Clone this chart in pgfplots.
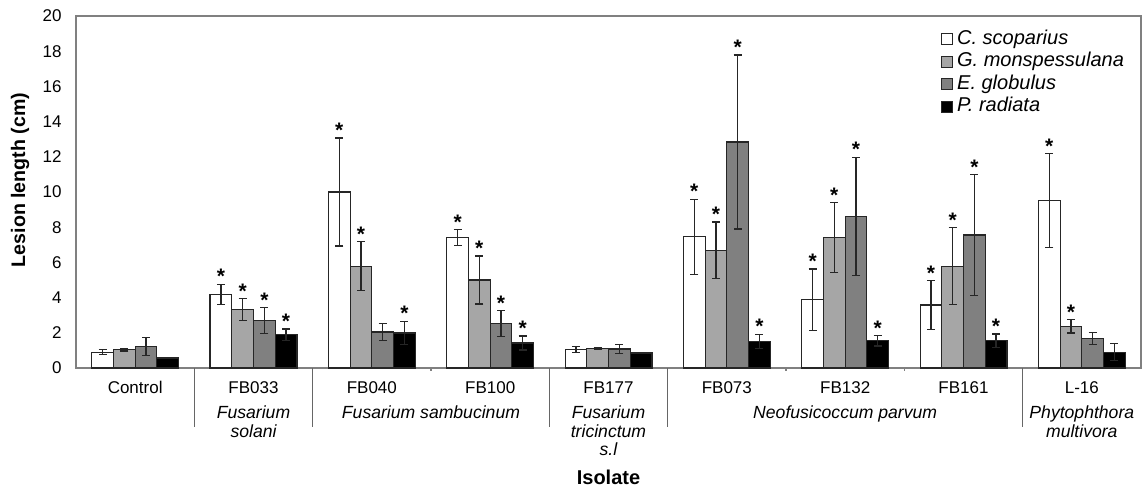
\documentclass[border=0pt]{standalone}
\usepackage{fontspec}
\setmainfont{Liberation Sans}
\usepackage{pgfplots}
\pgfplotsset{compat=1.18}
\definecolor{lgray}{RGB}{166,166,166}
\definecolor{dgray}{RGB}{128,128,128}
\definecolor{framec}{RGB}{128,128,128}
\pgfplotsset{
  bars/.style={draw=black!85, line width=0.6pt,
    error bars/y dir=both, error bars/y explicit,
    error bars/error bar style={line width=0.6pt, black!85},
    error bars/error mark options={rotate=90, mark size=2pt, line width=0.6pt, black!85}},
  stars/.style={forget plot, draw=none, fill=none, nodes near coords={*},
    every node near coord/.append style={font=\fontsize{10.5}{10.5}\selectfont\bfseries, anchor=south, inner sep=0pt, black}},
}
\tikzset{spec/.style={anchor=north, yshift=-18.8pt, align=center, inner sep=0pt,
    font=\fontsize{8.8}{9.25}\selectfont\itshape}}
\begin{document}
\begin{tikzpicture}
\begin{axis}[
  scale only axis, width=532.5pt, height=176pt,
  xmin=-0.5, xmax=8.5, ymin=0, ymax=20,
  ybar, bar width=10.85pt,
  clip=false,
  axis line style={draw=framec, line width=0.7pt},
  tick align=outside,
  major tick length=0pt,
  xtick pos=bottom, ytick pos=left,
  ytick={0,2,...,20},
  yticklabel style={font=\fontsize{8.5}{9}\selectfont, anchor=east, inner sep=0pt, xshift=-7pt},
  /pgf/number format/assume math mode=true,
  xtick={0,...,8},
  xticklabels={Control,FB033,FB040,FB100,FB177,FB073,FB132,FB161,L-16},
  xticklabel style={font=\fontsize{8.5}{9}\selectfont, anchor=base, yshift=-13pt},
  minor xtick={2.5,5.5,6.5},
  minor tick length=1.5pt,
  minor x tick style={draw=framec, line width=0.6pt},
  extra x ticks={0.5,1.5,3.5,4.5,7.5},
  extra x tick labels={},
  extra x tick style={major tick length=29.5pt, tick style={draw=black!60, line width=0.8pt}},
  every axis y label/.style={at={(rel axis cs:0,0.534)}, xshift=-28pt, rotate=90, anchor=center,
    font=\fontsize{9.8}{11}\selectfont\bfseries},
  ylabel={Lesion length (cm)},
  every axis x label/.style={at={(rel axis cs:0.5,0)}, anchor=base, yshift=-58.5pt,
    font=\fontsize{10}{11}\selectfont\bfseries},
  xlabel={Isolate},
  legend style={at={(rel axis cs:0.812,0.964)}, anchor=north west, draw=none, fill=none, inner sep=0pt,
    font=\fontsize{10}{11}\selectfont\itshape, row sep=0.95pt, column sep=1.5pt,
    nodes={inner sep=0.5pt, text height=7.2pt, text depth=2.1pt}},
  legend cell align=left,
  legend image code/.code={\draw[#1, line width=0.5pt] (0pt,-2.75pt) rectangle (5.5pt,2.75pt);},
]
% C. scoparius
\addplot[bars, fill=white, bar shift=-16.275pt] coordinates {
  (0,0.90) +- (0,0.13) (1,4.19) +- (0,0.57) (2,10.00) +- (0,3.07)
  (3,7.42) +- (0,0.45) (4,1.06) +- (0,0.17) (5,7.46) +- (0,2.13)
  (6,3.88) +- (0,1.75) (7,3.58) +- (0,1.37) (8,9.51) +- (0,2.67)};
% G. monspessulana
\addplot[bars, fill=lgray, bar shift=-5.425pt] coordinates {
  (0,1.04) +- (0,0.07) (1,3.31) +- (0,0.63) (2,5.78) +- (0,1.39)
  (3,5.00) +- (0,1.36) (4,1.12) +- (0,0.05) (5,6.69) +- (0,1.60)
  (6,7.42) +- (0,1.98) (7,5.78) +- (0,2.18) (8,2.37) +- (0,0.38)};
% E. globulus
\addplot[bars, fill=dgray, bar shift=5.425pt] coordinates {
  (0,1.23) +- (0,0.50) (1,2.71) +- (0,0.73) (2,2.05) +- (0,0.48)
  (3,2.52) +- (0,0.74) (4,1.08) +- (0,0.27) (5,12.84) +- (0,4.94)
  (6,8.62) +- (0,3.35) (7,7.56) +- (0,3.42) (8,1.67) +- (0,0.35)};
% P. radiata
\addplot[bars, fill=black, bar shift=16.275pt] coordinates {
  (0,0.57) +- (0,0.04) (1,1.89) +- (0,0.33) (2,1.99) +- (0,0.66)
  (3,1.42) +- (0,0.40) (4,0.85) +- (0,0.02) (5,1.52) +- (0,0.40)
  (6,1.55) +- (0,0.30) (7,1.55) +- (0,0.38) (8,0.89) +- (0,0.48)};
\legend{C. scoparius, G. monspessulana, E. globulus, P. radiata}
% significance stars, placed at top of error bars
\addplot[stars, bar shift=-16.275pt] coordinates {(1,4.76) (2,13.07) (3,7.87) (5,9.59) (6,5.63) (7,4.95) (8,12.18)};
\addplot[stars, bar shift=-5.425pt] coordinates {(1,3.94) (2,7.17) (3,6.36) (5,8.29) (6,9.40) (7,7.96) (8,2.75)};
\addplot[stars, bar shift=5.425pt] coordinates {(1,3.44) (3,3.26) (5,17.78) (6,11.97) (7,10.98)};
\addplot[stars, bar shift=16.275pt] coordinates {(1,2.22) (2,2.65) (3,1.82) (5,1.92) (6,1.85) (7,1.93)};
% species names under the isolate labels
\node[spec] at (axis cs:1,0) {Fusarium\\solani};
\node[spec] at (axis cs:2.5,0) {Fusarium sambucinum};
\node[spec] at (axis cs:4,0) {Fusarium\\tricinctum\\s.l};
\node[spec] at (axis cs:6,0) {Neofusicoccum parvum};
\node[spec] at (axis cs:8,0) {Phytophthora\\multivora};
\coordinate (O) at (rel axis cs:0,0);
\end{axis}
\pgfresetboundingbox
\path (O) ++(-38pt,-61.5pt) rectangle ++(572.5pt,245.5pt);
\end{tikzpicture}
\end{document}
